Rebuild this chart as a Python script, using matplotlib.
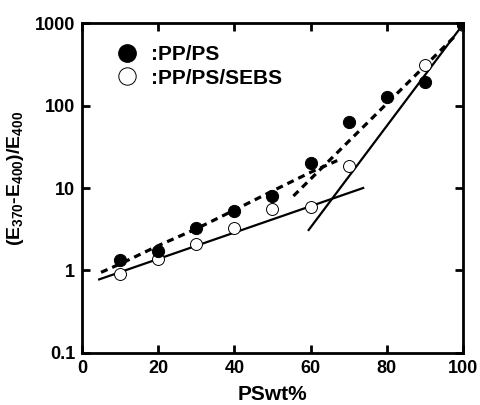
import numpy as np
import matplotlib
matplotlib.use("Agg")
import matplotlib.pyplot as plt
from matplotlib.lines import Line2D

plt.rcParams['font.family'] = ['Liberation Sans', 'DejaVu Sans']
plt.rcParams['font.weight'] = 'bold'
plt.rcParams['mathtext.fontset'] = 'custom'
plt.rcParams['mathtext.rm'] = 'Liberation Sans:bold'
plt.rcParams['mathtext.bf'] = 'Liberation Sans:bold'
plt.rcParams['mathtext.it'] = 'Liberation Sans:bold'
plt.rcParams['mathtext.default'] = 'bf'

# data
x_pps = [10, 20, 30, 40, 50, 60, 70, 80, 90, 100]
y_pps = [1.33, 1.7, 3.26, 5.2, 8.1, 20.2, 63, 126, 195, 960]
x_sebs = [10, 20, 30, 40, 50, 60, 70, 90, 100]
y_sebs = [0.9, 1.36, 2.1, 3.26, 5.6, 5.85, 18.4, 310, 950]

# guide lines
solid1_x = [4.5, 73.8]
solid1_y = [0.78, 10]
solid2_x = [59.5, 100]
solid2_y = [3.1, 960]
dash1_x = [5, 10, 20, 30, 40, 50, 60, 67]
dash1_y = [0.95, 1.2, 2.0, 3.2, 5.4, 9.2, 15.5, 21.5]
dash2_x = [55.5, 98]
dash2_y = [8, 700]

fig = plt.figure(figsize=(4.81, 4.05), dpi=100)
ax = fig.add_axes([0.1705, 0.1284, 0.792, 0.8148])

ax.plot(solid1_x, solid1_y, color='black', lw=1.6)
ax.plot(solid2_x, solid2_y, color='black', lw=1.6)
ax.plot(dash1_x, dash1_y, color='black', lw=2.3, dashes=(2.2, 1.6))
ax.plot(dash2_x, dash2_y, color='black', lw=2.3, dashes=(2.2, 1.6))

ax.plot(x_sebs, y_sebs, 'o', ms=8.6, mfc='white', mec='black', mew=0.7, zorder=3)
ax.plot(x_pps, y_pps, 'o', ms=8.8, mfc='black', mec='black', mew=0.7, zorder=4)

ax.set_yscale('log')
ax.set_xlim(0, 100)
ax.set_ylim(0.1, 1000)
ax.set_xticks([0, 20, 40, 60, 80, 100])
ax.set_yticks([0.1, 1, 10, 100, 1000])
ax.set_yticklabels(['0.1', '1', '10', '100', '1000'])
ax.minorticks_off()
ax.tick_params(direction='in', length=6, width=2, labelsize=13,
               top=True, right=True, pad=5)
for s in ax.spines.values():
    s.set_linewidth(2)

ax.set_xlabel('PSwt%', fontsize=15, fontweight='bold', labelpad=6)
ax.set_ylabel(r'(E$_{370}$-E$_{400}$)/E$_{400}$', fontsize=14,
              fontweight='bold')
ax.yaxis.set_label_coords(-0.148, 0.53)

handles = [Line2D([], [], ls='', marker='o', ms=12.5, mfc='black', mec='black'),
           Line2D([], [], ls='', marker='o', ms=12.5, mfc='white', mec='black', mew=0.7)]
leg = ax.legend(handles, [':PP/PS', ':PP/PS/SEBS'], loc='upper left',
                bbox_to_anchor=(0.035, 0.99), frameon=False, fontsize=15,
                handletextpad=0.55, labelspacing=0.22, handlelength=1.2)

fig.savefig('out.png', dpi=100)
